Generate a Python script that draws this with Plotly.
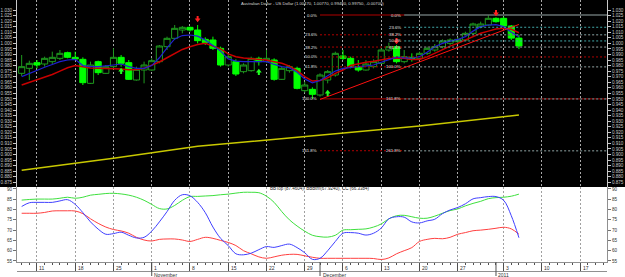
import plotly.graph_objects as go

# ---------------- data ----------------
# bar index of trading days (0 = Mon 11 Oct 2010)
idx = list(range(-2, 64))

open_ = [0.9730, 0.9775, 0.9826, 0.9814, 0.9835, 0.9865, 0.9916, 0.9874, 0.9856, 0.9640,
         0.9835, 0.9730, 0.9790, 0.9874, 0.9826, 0.9670, 0.9760, 0.9760, 0.9835, 0.9970,
         1.0045, 1.0120, 1.0144, 1.0120, 1.0036, 1.0030, 0.9955, 0.9805, 0.9835, 0.9745,
         0.9754, 0.9865, 0.9835, 0.9850, 0.9676, 0.9754, 0.9775, 0.9574, 0.9586, 0.9535,
         0.9670, 0.9715, 0.9886, 0.9865, 0.9790, 0.9760, 0.9790, 0.9820, 0.9940, 0.9970,
         0.9835, 0.9874, 0.9865, 0.9910, 0.9940, 0.9970, 1.0000, 1.0015, 1.0030, 1.0090,
         1.0150, 1.0165, 1.0225, 1.0225, 1.0156, 1.0047]
high = [0.9895, 0.9844, 0.9850, 0.9880, 0.9925, 0.9940, 0.9925, 0.9925, 0.9874, 0.9835,
        0.9844, 0.9805, 0.9955, 0.9895, 0.9850, 0.9790, 0.9835, 0.9865, 0.9985, 1.0060,
        1.0165, 1.0156, 1.0150, 1.0165, 1.0054, 1.0060, 0.9970, 0.9910, 0.9856, 0.9820,
        0.9880, 0.9880, 0.9940, 0.9865, 0.9790, 0.9805, 0.9790, 0.9655, 0.9604, 0.9730,
        0.9760, 0.9925, 0.9940, 0.9880, 0.9850, 0.9850, 0.9856, 0.9955, 1.0006, 0.9985,
        0.9940, 0.9910, 0.9925, 0.9970, 0.9994, 1.0036, 1.0045, 1.0054, 1.0105, 1.0186,
        1.0195, 1.0255, 1.0234, 1.0240, 1.0165, 1.0077]
low = [0.9706, 0.9670, 0.9775, 0.9790, 0.9814, 0.9850, 0.9865, 0.9850, 0.9625, 0.9634,
       0.9715, 0.9724, 0.9775, 0.9790, 0.9670, 0.9664, 0.9640, 0.9754, 0.9820, 0.9940,
       1.0030, 1.0090, 1.0105, 1.0000, 0.9985, 0.9940, 0.9790, 0.9790, 0.9706, 0.9730,
       0.9745, 0.9800, 0.9826, 0.9664, 0.9670, 0.9736, 0.9586, 0.9556, 0.9500, 0.9520,
       0.9640, 0.9700, 0.9850, 0.9775, 0.9745, 0.9754, 0.9775, 0.9814, 0.9925, 0.9820,
       0.9820, 0.9835, 0.9850, 0.9895, 0.9925, 0.9955, 0.9985, 1.0000, 1.0024, 1.0075,
       1.0135, 1.0156, 1.0186, 1.0150, 1.0030, 0.9948]
close = [0.9790, 0.9820, 0.9805, 0.9865, 0.9874, 0.9910, 0.9874, 0.9859, 0.9646, 0.9805,
         0.9736, 0.9790, 0.9874, 0.9820, 0.9676, 0.9766, 0.9805, 0.9844, 0.9976, 1.0045,
         1.0135, 1.0144, 1.0120, 1.0024, 1.0006, 0.9955, 0.9805, 0.9880, 0.9724, 0.9805,
         0.9865, 0.9835, 0.9865, 0.9676, 0.9775, 0.9790, 0.9595, 0.9625, 0.9541, 0.9715,
         0.9745, 0.9910, 0.9865, 0.9790, 0.9760, 0.9814, 0.9835, 0.9940, 0.9970, 0.9835,
         0.9880, 0.9856, 0.9910, 0.9955, 0.9970, 1.0021, 1.0030, 1.0036, 1.0090, 1.0174,
         1.0174, 1.0225, 1.0195, 1.0156, 1.0047, 0.9975]

ma_fast = [0.9700, 0.9730, 0.9760, 0.9785, 0.9810, 0.9835, 0.9850, 0.9856, 0.9800, 0.9790,
           0.9790, 0.9795, 0.9805, 0.9814, 0.9790, 0.9775, 0.9775, 0.9800, 0.9870, 0.9960,
           1.0040, 1.0070, 1.0075, 1.0065, 1.0030, 0.9980, 0.9930, 0.9860, 0.9840, 0.9835,
           0.9835, 0.9835, 0.9835, 0.9810, 0.9790, 0.9780, 0.9740, 0.9680, 0.9645, 0.9665,
           0.9710, 0.9750, 0.9775, 0.9785, 0.9790, 0.9795, 0.9805, 0.9830, 0.9855, 0.9875,
           0.9870, 0.9866, 0.9880, 0.9920, 0.9970, 1.0000, 1.0020, 1.0035, 1.0060, 1.0110,
           1.0150, 1.0165, 1.0168, 1.0150, 1.0100, 1.0060]
ma_slow = [0.9625, 0.9648, 0.9672, 0.9695, 0.9720, 0.9750, 0.9780, 0.9800, 0.9790, 0.9778,
           0.9775, 0.9775, 0.9775, 0.9770, 0.9762, 0.9765, 0.9775, 0.9800, 0.9832, 0.9870,
           0.9910, 0.9945, 0.9970, 0.9990, 1.0000, 0.9975, 0.9950, 0.9905, 0.9880, 0.9868,
           0.9862, 0.9856, 0.9850, 0.9835, 0.9820, 0.9795, 0.9755, 0.9700, 0.9660, 0.9665,
           0.9690, 0.9730, 0.9760, 0.9800, 0.9815, 0.9830, 0.9838, 0.9850, 0.9863, 0.9866,
           0.9865, 0.9855, 0.9855, 0.9878, 0.9910, 0.9945, 0.9975, 1.0000, 1.0030, 1.0060,
           1.0090, 1.0110, 1.0128, 1.0135, 1.0126, 1.0095]
ma_long_idx = [-2, 10, 21, 36, 50, 63]
ma_long = [0.8858, 0.8966, 0.9073, 0.9170, 0.9256, 0.9354]

# Fibonacci retracements: (start bar, 0% price, 100% price)
fib_ratios = [0.0, 0.236, 0.382, 0.5, 0.618, 1.0, 1.618, 2.618]
fib_labels = ["0.0%", "23.6%", "38.2%", "50.0%", "61.8%", "100.0%", "161.8%", "261.8%"]
fib1 = (37, 1.0255, 0.9500)
fib2 = (48, 1.0255, 0.9788)
trend_x = [37, 63]
trend_y = [0.9495, 1.0170]

down_arrow_idx = [21, 47, 60]
down_arrow_px = [1.0219, 1.0021, 1.0273]
up_arrow_idx = [11, 29, 38]
up_arrow_px = [0.9751, 0.9742, 0.9553]

bb_top = [84.6, 84.9, 85.1, 85.1, 85.1, 85.5, 86.0, 85.5, 86.0, 87.0, 87.4, 87.8, 87.9, 87.6,
          87.0, 86.0, 84.5, 82.5, 80.5, 80.3, 82.0, 84.5, 86.3, 86.4, 86.6, 86.8, 87.2, 87.5,
          88.0, 88.4, 88.4, 88.2, 86.5, 83.5, 79.0, 75.0, 72.0, 69.5, 67.5, 66.8, 66.6, 67.5,
          70.0, 70.2, 70.4, 70.6, 71.5, 73.0, 75.5, 77.0, 77.2, 76.5, 75.8, 75.8, 76.8, 78.2,
          79.5, 80.3, 81.8, 83.0, 84.0, 85.3, 85.8, 86.0, 86.5, 87.5]
bb_btm = [78.2, 78.2, 78.2, 78.6, 79.3, 79.4, 79.4, 79.3, 78.0, 75.5, 73.3, 71.5, 70.3, 69.6,
          68.5, 66.5, 65.2, 64.7, 65.5, 65.7, 65.7, 65.2, 64.5, 65.5, 66.5, 66.0, 65.0, 64.0,
          62.5, 60.0, 58.5, 57.0, 56.3, 57.0, 57.8, 58.2, 58.2, 57.5, 56.8, 56.3, 56.3, 56.3,
          56.3, 56.3, 56.3, 56.3, 56.2, 55.7, 56.5, 58.5, 60.0, 61.5, 64.5, 65.5, 66.0, 65.8,
          66.5, 68.0, 68.8, 69.7, 70.0, 70.4, 70.9, 71.4, 70.6, 68.0]
cc = [81.5, 83.3, 83.5, 83.5, 83.5, 84.2, 84.8, 82.5, 78.5, 74.0, 70.5, 68.0, 68.3, 69.0,
      67.5, 66.2, 66.5, 69.5, 74.0, 79.0, 84.5, 87.2, 86.7, 83.5, 78.5, 71.5, 66.0, 62.5,
      58.5, 58.0, 58.8, 60.5, 62.0, 61.6, 62.5, 63.2, 61.5, 59.0, 55.8, 56.3, 60.0, 64.5,
      68.5, 68.8, 68.5, 67.6, 68.5, 71.0, 75.5, 76.5, 76.3, 74.0, 73.5, 74.5, 75.3, 78.0,
      79.8, 81.0, 82.8, 85.2, 85.8, 86.3, 86.3, 84.5, 77.0, 66.3]

week_idx = [0, 5, 10, 15, 20, 25, 30, 35, 40, 45, 50, 55, 61, 66, 71]
week_labels = ["11", "18", "25", "1", "8", "15", "22", "29", "6", "13", "20", "27", "3", "10", "17"]
month_idx = [15, 37, 60]
month_labels = ["November", "December", "2011"]

price_ticks = [round(0.875 + 0.005 * k, 3) for k in range(32)]
osc_ticks = [55, 60, 65, 70, 75, 80, 85, 90]

title_main = "Australian Dollar - US Dollar (1.00470, 1.00770, 0.99480, 0.99750, -0.00700)"
title_osc = "BBTop (87.4604), BBBtm(67.9240), CC (66.3384)"

# ---------------- layout constants ----------------
W, H = 625, 277
ML, MR, MT, MB = 17, 18, 0, 15
PW, PH = W - ML - MR, H - MT - MB
LOW_H = 75
split = LOW_H / PH
XR = [-2.61, 74.51]
YR_MAIN = [0.8707, 1.039]
YR_OSC = [54.5, 90.97]
FONT = "Liberation Sans"

fig = go.Figure()

# candles
fig.add_trace(go.Candlestick(
    x=idx, open=open_, high=high, low=low, close=close,
    increasing=dict(line=dict(color="#1f9a1f", width=1), fillcolor="#000000"),
    decreasing=dict(line=dict(color="#00ff00", width=1), fillcolor="#00ff00"),
    whiskerwidth=0, showlegend=False, hoverinfo="skip", xaxis="x", yaxis="y"))

fig.add_trace(go.Scatter(x=ma_long_idx, y=ma_long, mode="lines",
                         line=dict(color="#c8c800", width=1.5), xaxis="x", yaxis="y",
                         showlegend=False, hoverinfo="skip"))
fig.add_trace(go.Scatter(x=idx, y=ma_slow, mode="lines", line=dict(color="#c80000", width=1.5),
                         xaxis="x", yaxis="y", showlegend=False, hoverinfo="skip"))
fig.add_trace(go.Scatter(x=idx, y=ma_fast, mode="lines", line=dict(color="#2020d0", width=1.2),
                         xaxis="x", yaxis="y", showlegend=False, hoverinfo="skip"))

annotations = []


def add_fib(fib, color, solid_set):
    start, p0, p100 = fib
    for r, lab in zip(fib_ratios, fib_labels):
        lvl = p0 - r * (p0 - p100)
        dash = "solid" if r in solid_set else "2px,2px"
        fig.add_trace(go.Scatter(x=[start, XR[1]], y=[lvl, lvl], mode="lines",
                                 line=dict(color=color, width=1, dash=dash),
                                 xaxis="x", yaxis="y", showlegend=False, hoverinfo="skip"))
        if YR_MAIN[0] < lvl < YR_MAIN[1]:
            annotations.append(dict(x=start, y=lvl, xref="x", yref="y", text=lab,
                                    showarrow=False, xanchor="right", yanchor="middle",
                                    xshift=-1, font=dict(family=FONT, size=4.3, color="#e0e0e0")))


add_fib(fib1, "#b00000", {0.0, 1.0})
add_fib(fib2, "#40a8a8", {0.0})

fig.add_trace(go.Scatter(x=trend_x, y=trend_y, mode="lines", line=dict(color="#ff1010", width=1),
                         xaxis="x", yaxis="y", showlegend=False, hoverinfo="skip"))

# arrows (stem + head)
stem = 0.0027
sx, sy = [], []
for i, p in zip(down_arrow_idx, down_arrow_px):
    sx += [i, i, None]
    sy += [p + stem, p, None]
fig.add_trace(go.Scatter(x=sx, y=sy, mode="lines", line=dict(color="#ff2020", width=2),
                         xaxis="x", yaxis="y", showlegend=False, hoverinfo="skip"))
fig.add_trace(go.Scatter(x=down_arrow_idx, y=[p - 0.0006 for p in down_arrow_px], mode="markers",
                         marker=dict(symbol="triangle-down", size=5, color="#ff2020"),
                         xaxis="x", yaxis="y", showlegend=False, hoverinfo="skip"))
sx, sy = [], []
for i, p in zip(up_arrow_idx, up_arrow_px):
    sx += [i, i, None]
    sy += [p - stem, p, None]
fig.add_trace(go.Scatter(x=sx, y=sy, mode="lines", line=dict(color="#20ff20", width=2),
                         xaxis="x", yaxis="y", showlegend=False, hoverinfo="skip"))
fig.add_trace(go.Scatter(x=up_arrow_idx, y=[p + 0.0006 for p in up_arrow_px], mode="markers",
                         marker=dict(symbol="triangle-up", size=5, color="#20ff20"),
                         xaxis="x", yaxis="y", showlegend=False, hoverinfo="skip"))

# dummy on right price axis
fig.add_trace(go.Scatter(x=[None], y=[None], xaxis="x", yaxis="y3", showlegend=False, hoverinfo="skip"))

# oscillator
fig.add_trace(go.Scatter(x=idx, y=bb_top, mode="lines", line=dict(color="#3ee03e", width=1, shape="spline"),
                         xaxis="x2", yaxis="y2", showlegend=False, hoverinfo="skip"))
fig.add_trace(go.Scatter(x=idx, y=bb_btm, mode="lines", line=dict(color="#ff4040", width=1, shape="spline"),
                         xaxis="x2", yaxis="y2", showlegend=False, hoverinfo="skip"))
fig.add_trace(go.Scatter(x=idx, y=cc, mode="lines", line=dict(color="#4040ff", width=1, shape="spline"),
                         xaxis="x2", yaxis="y2", showlegend=False, hoverinfo="skip"))
fig.add_trace(go.Scatter(x=[None], y=[None], xaxis="x2", yaxis="y4", showlegend=False, hoverinfo="skip"))

# texts
annotations.append(dict(x=0.5, y=1 - 3.5 / PH, xref="paper", yref="paper", text=title_main,
                        showarrow=False, xanchor="center", yanchor="middle",
                        font=dict(family=FONT, size=4.2, color="#d8d8d8")))
annotations.append(dict(x=(268 - ML) / PW, y=(PH - 188.5) / PH, xref="paper", yref="paper",
                        text=title_osc, showarrow=False, xanchor="left", yanchor="middle",
                        font=dict(family=FONT, size=4.5, color="#202020")))
for i, lab in zip(week_idx, week_labels):
    annotations.append(dict(x=i, y=-6.0 / PH, xref="x2", yref="paper", text=lab, showarrow=False,
                            xanchor="left", yanchor="middle", xshift=0.5,
                            font=dict(family=FONT, size=5, color="#303030")))
for i, lab in zip(month_idx, month_labels):
    annotations.append(dict(x=i, y=-12.5 / PH, xref="x2", yref="paper", text=lab, showarrow=False,
                            xanchor="left", yanchor="middle", xshift=0.5,
                            font=dict(family=FONT, size=5, color="#303030")))

shapes = [dict(type="rect", xref="paper", yref="paper", x0=-ML / PW, x1=1 + MR / PW,
               y0=split, y1=1 + MT / PH, fillcolor="#000000", line=dict(width=0), layer="below"),
          dict(type="line", xref="paper", yref="paper", x0=0, x1=1, y0=-9.5 / PH, y1=-9.5 / PH,
               line=dict(color="#909090", width=1))]
for i in month_idx:
    shapes.append(dict(type="line", xref="x2", yref="paper", x0=i, x1=i, y0=0, y1=-14 / PH,
                       line=dict(color="#505050", width=1)))

ptxt = ["%.3f" % v for v in price_ticks]
price_axis = dict(range=YR_MAIN, domain=[split, 1], tickvals=price_ticks, ticktext=ptxt,
                  tickfont=dict(family=FONT, size=4.6, color="#c8c8c8"), ticks="outside",
                  ticklen=3, tickcolor="#c8c8c8", showline=True, linecolor="#c8c8c8",
                  showgrid=False, zeroline=False, fixedrange=True)
osc_axis = dict(range=YR_OSC, domain=[0, split], tickvals=osc_ticks,
                tickfont=dict(family=FONT, size=4.6, color="#303030"), ticks="outside",
                ticklen=3, tickcolor="#707070", showline=True, linecolor="#909090",
                showgrid=False, zeroline=False)

fig.update_layout(
    width=W, height=H, margin=dict(l=ML, r=MR, t=MT, b=MB, pad=0),
    paper_bgcolor="#ffffff", plot_bgcolor="rgba(0,0,0,0)", showlegend=False,
    boxgap=0.2, boxgroupgap=0,
    xaxis=dict(domain=[0, 1], anchor="y", range=XR, tickvals=week_idx, showticklabels=False,
               ticks="", showgrid=True, gridcolor="#a8a8a8", griddash="2px,2px", gridwidth=1,
               zeroline=False, showline=False, rangeslider=dict(visible=False)),
    yaxis=dict(anchor="x", side="left", **price_axis),
    yaxis3=dict(anchor="x", overlaying="y", side="right", **price_axis),
    xaxis2=dict(domain=[0, 1], anchor="y2", range=XR, tickvals=week_idx, showticklabels=False,
                ticks="outside", ticklen=8, tickcolor="#505050",
                minor=dict(dtick=1, tick0=0, ticklen=2, ticks="outside", tickcolor="#505050", showgrid=False),
                showgrid=True, gridcolor="#a0a0a0", griddash="2px,2px", zeroline=False,
                showline=True, linecolor="#909090"),
    yaxis2=dict(anchor="x2", side="left", **osc_axis),
    yaxis4=dict(anchor="x2", overlaying="y2", side="right", **osc_axis),
    annotations=annotations, shapes=shapes,
)

fig.write_html("out.html")
